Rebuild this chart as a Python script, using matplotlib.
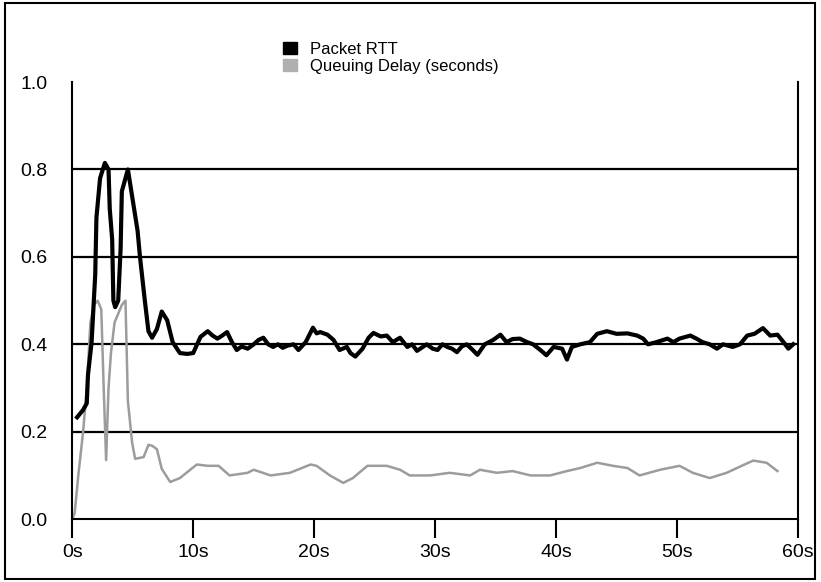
import numpy as np
import matplotlib
matplotlib.use('Agg')
import matplotlib.pyplot as plt
from matplotlib.patches import Patch, Rectangle

plt.rcParams['font.family'] = ['Liberation Sans Narrow', 'Liberation Sans', 'DejaVu Sans']

# packet round trip time (s)
t_rtt = [0.4, 0.9, 1.2, 1.3, 1.6, 1.9, 2.0, 2.3, 2.7, 3.0, 3.1, 3.3, 3.4, 3.55, 3.8,
         4.0, 4.1, 4.6, 5.0, 5.4, 5.6, 6.0, 6.3, 6.6, 7.0, 7.4, 7.85, 8.3, 8.9, 9.5,
         10.0, 10.6, 11.2, 11.6, 12.0, 12.4, 12.8, 13.2, 13.6, 14.0, 14.5, 15.0, 15.4,
         15.8, 16.2, 16.6, 17.0, 17.4, 17.8, 18.3, 18.7, 19.3, 19.9, 20.2, 20.5, 21.1,
         21.6, 22.1, 22.7, 23.0, 23.4, 24.0, 24.5, 24.9, 25.5, 26.0, 26.5, 27.1, 27.7,
         28.1, 28.5, 29.3, 29.8, 30.2, 30.6, 31.0, 31.4, 31.8, 32.2, 32.6, 33.0, 33.5,
         34.1, 34.8, 35.4, 35.9, 36.4, 37.0, 37.6, 38.1, 38.7, 39.2, 39.8, 40.5, 40.9,
         41.3, 42.0, 42.8, 43.4, 44.2, 45.0, 45.9, 46.7, 47.2, 47.6, 48.3, 49.2, 49.7,
         50.2, 51.1, 51.6, 52.1, 52.7, 53.3, 53.8, 54.6, 55.2, 55.8, 56.4, 57.1, 57.7,
         58.3, 58.8, 59.2, 59.6]
rtt = [0.233, 0.25, 0.265, 0.33, 0.405, 0.56, 0.69, 0.78, 0.815, 0.80, 0.71, 0.64, 0.50,
       0.485, 0.50, 0.62, 0.75, 0.80, 0.73, 0.66, 0.60, 0.50, 0.43, 0.415, 0.435, 0.475,
       0.455, 0.405, 0.38, 0.378, 0.38, 0.417, 0.43, 0.42, 0.413, 0.42, 0.428, 0.405,
       0.387, 0.395, 0.39, 0.40, 0.41, 0.415, 0.40, 0.394, 0.40, 0.392, 0.397, 0.40,
       0.387, 0.405, 0.438, 0.425, 0.428, 0.422, 0.41, 0.387, 0.394, 0.38, 0.372, 0.39,
       0.415, 0.426, 0.418, 0.42, 0.405, 0.415, 0.394, 0.40, 0.385, 0.40, 0.39, 0.387,
       0.40, 0.394, 0.39, 0.382, 0.395, 0.40, 0.39, 0.376, 0.40, 0.41, 0.422, 0.405,
       0.412, 0.413, 0.405, 0.40, 0.387, 0.375, 0.394, 0.39, 0.365, 0.394, 0.40, 0.405,
       0.424, 0.43, 0.424, 0.425, 0.42, 0.413, 0.40, 0.405, 0.413, 0.405, 0.413, 0.42,
       0.413, 0.405, 0.40, 0.39, 0.40, 0.394, 0.40, 0.42, 0.424, 0.437, 0.42, 0.422,
       0.405, 0.39, 0.40]

# queuing delay (s)
t_q = [0.0, 0.2, 0.5, 0.9, 1.2, 1.5, 1.8, 2.1, 2.4, 2.6, 2.8, 3.0, 3.2, 3.5, 3.8, 4.1,
       4.4, 4.6, 4.95, 5.2, 5.9, 6.3, 6.6, 7.0, 7.4, 8.1, 8.9, 9.75, 10.3, 11.2, 12.1,
       13.0, 14.5, 15.0, 16.4, 18.0, 19.7, 20.2, 21.3, 22.4, 23.2, 24.4, 26.0, 27.1,
       27.9, 29.6, 31.2, 32.9, 33.7, 35.1, 36.4, 37.9, 39.5, 40.9, 42.0, 43.4, 44.7,
       45.9, 46.9, 48.6, 50.2, 51.3, 52.7, 54.1, 55.5, 56.3, 57.4, 58.3]
qdelay = [0.0, 0.014, 0.10, 0.20, 0.30, 0.45, 0.49, 0.50, 0.48, 0.30, 0.135, 0.30, 0.38,
          0.45, 0.47, 0.49, 0.50, 0.27, 0.175, 0.138, 0.142, 0.17, 0.168, 0.16, 0.115,
          0.085, 0.094, 0.113, 0.125, 0.122, 0.122, 0.10, 0.106, 0.113, 0.10, 0.106,
          0.125, 0.122, 0.10, 0.083, 0.094, 0.122, 0.122, 0.113, 0.10, 0.10, 0.106,
          0.10, 0.113, 0.106, 0.11, 0.10, 0.10, 0.11, 0.117, 0.129, 0.122, 0.117, 0.10,
          0.113, 0.122, 0.106, 0.094, 0.106, 0.124, 0.134, 0.129, 0.11]

xticks = [0, 10, 20, 30, 40, 50, 60]
yticks = [0.0, 0.2, 0.4, 0.6, 0.8, 1.0]

fig = plt.figure(figsize=(8.21, 5.82), dpi=100)
ax = fig.add_axes([0.088, 0.108, 0.884, 0.751])

for y in yticks[1:-1]:
    ax.axhline(y, color='black', lw=1.6, zorder=1)

ax.plot(t_q, qdelay, color='#9c9c9c', lw=1.8, zorder=2)
ax.plot(t_rtt, rtt, color='black', lw=3, zorder=3)

ax.set_xlim(0, 60)
ax.set_ylim(0, 1.0)
ax.set_xticks(xticks)
ax.set_xticklabels(['%ds' % x for x in xticks])
ax.set_yticks(yticks)
ax.set_yticklabels(['%.1f' % y for y in yticks])
ax.tick_params(axis='y', length=0, pad=18, labelsize=14)
ax.tick_params(axis='x', direction='out', length=14, width=1.5, pad=4, labelsize=14)
ax.spines['top'].set_visible(False)
for s in ['left', 'right', 'bottom']:
    ax.spines[s].set_linewidth(1.5)

handles = [Patch(facecolor='black', edgecolor='black'),
           Patch(facecolor='#b0b0b0', edgecolor='#b0b0b0', hatch='....')]
fig.legend(handles, ['Packet RTT', 'Queuing Delay (seconds)'],
           loc='upper left', bbox_to_anchor=(0.336, 0.94), frameon=False,
           fontsize=12, handlelength=0.85, handleheight=0.75, handletextpad=0.8,
           labelspacing=0.12, borderaxespad=0)

fig.patches.append(Rectangle((0.006, 0.005), 0.987, 0.99, transform=fig.transFigure,
                             fill=False, edgecolor='black', lw=1.5))

plt.savefig('out.png', dpi=100)
